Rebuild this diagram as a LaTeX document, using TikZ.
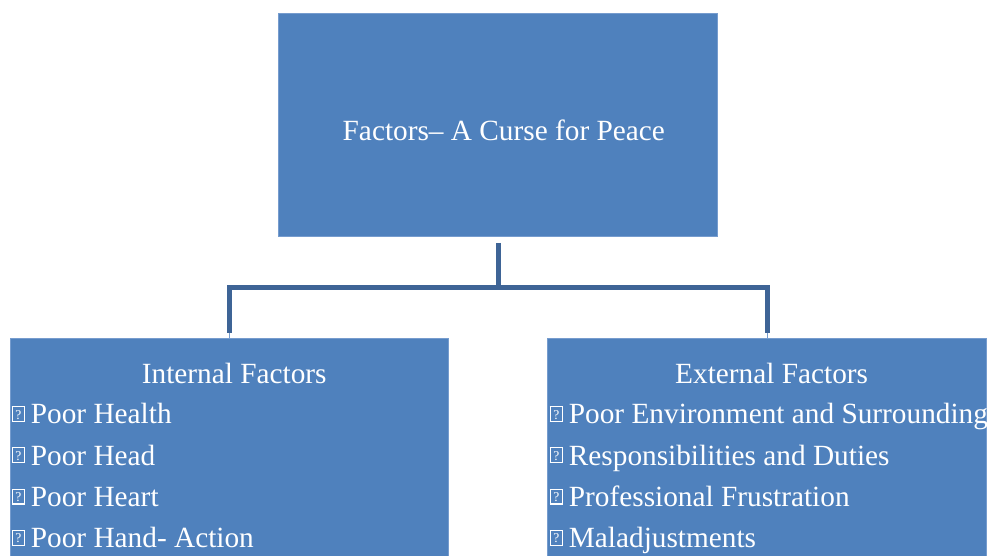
\documentclass[tikz,border=0pt]{standalone}
\usepackage{fontspec}
\setmainfont{Liberation Serif}
\usetikzlibrary{calc}
\definecolor{boxblue}{RGB}{79,129,189}
\definecolor{boxedge}{RGB}{118,156,206}
\definecolor{connblue}{RGB}{62,100,150}
\newcommand\qb{\raisebox{5pt}{\setlength\fboxrule{1.1pt}\setlength\fboxsep{0pt}\fbox{\makebox[11pt]{\rule[-2pt]{0pt}{13.8pt}\fontsize{13.5}{13.5}\selectfont ?}}}\hspace{6pt}}
\tikzset{
  blockbox/.style={draw=boxedge, line width=0.75pt, fill=boxblue, rectangle, inner sep=0pt},
  conn/.style={draw=connblue, line width=5pt, line join=miter},
  thinconn/.style={draw=boxedge, line width=0.8pt},
  txt/.style={text=white, inner sep=0pt, anchor=base west, font=\fontsize{29.3}{34}\selectfont}
}
\begin{document}
\begin{tikzpicture}[x=1pt,y=-1pt]
\useasboundingbox (0,0) rectangle (989,556);
\fill[white] (0,0) rectangle (989,556);
% boxes
\node[blockbox, minimum width=439pt, minimum height=223.5pt] (top) at (497.75,124.75) {};
\node[blockbox, minimum width=438pt, minimum height=240pt] (left) at (229,458) {};
\node[blockbox, minimum width=439pt, minimum height=240pt] (right) at (766.5,458) {};
% connectors
\coordinate (j) at ($(top.south)+(0.25,51)$);
\coordinate (lend) at ($(left.north)+(0.5,-5)$);
\coordinate (rend) at ($(right.north)+(0.5,-5)$);
\draw[thinconn] (lend) -- (left.north -| lend);
\draw[thinconn] (rend) -- (right.north -| rend);
\draw[conn] ($(top.south)+(0.25,6)$) -- (j);
\draw[conn] (lend) |- (j) -| (rend);
% title
\node[txt] (title) at (342.5,141) {Factors– A Curse for Peace};
% left list
\node[txt] (lhead) at (141.7,383.3) {Internal Factors};
\node[txt] (l1) at (11.5,424) {\qb Poor Health};
\node[txt] (l2) at (11.5,465.2) {\qb Poor Head};
\node[txt] (l3) at (11.5,506.4) {\qb Poor Heart};
\node[txt] (l4) at (11.5,547.6) {\qb Poor Hand- Action};
% right list
\begin{scope}
\clip (right.north west) rectangle (right.south east);
\node[txt] (rhead) at (675,383.3) {External Factors};
\node[txt] (r1) at (549.5,424) {\qb Poor Environment and Surrounding};
\node[txt] (r2) at (549.5,465.2) {\qb Responsibilities and Duties};
\node[txt] (r3) at (549.5,506.4) {\qb Professional Frustration};
\node[txt] (r4) at (549.5,547.6) {\qb Maladjustments};
\end{scope}
\end{tikzpicture}
\end{document}
